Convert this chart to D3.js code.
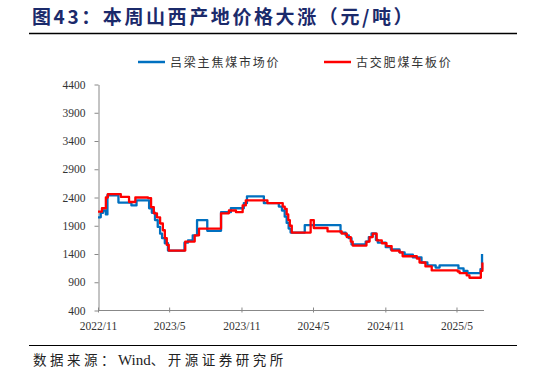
<!DOCTYPE html>
<html>
<head>
<meta charset="utf-8">
<script src="https://cdn.jsdelivr.net/npm/d3@7"></script>
<style>
  body { margin: 0; background: #fff; }
  svg { display: block; }
</style>
</head>
<body>
<svg width="546" height="376"></svg>
<script>
// series names
var seriesNames = ["吕梁主焦煤市场价", "古交肥煤车板价"];
var seriesColors = ["#0070C0", "#FF0000"];

// 吕梁主焦煤市场价 (step change points)
var lvliangDates = ["2022-11-01","2022-11-08","2022-11-14","2022-11-21","2022-11-25","2022-12-23",
  "2023-01-25","2023-02-07","2023-03-11","2023-03-18","2023-03-26","2023-04-02","2023-04-08",
  "2023-04-13","2023-04-20","2023-04-28","2023-06-09","2023-06-18","2023-06-30","2023-07-11",
  "2023-08-06","2023-09-10","2023-10-05","2023-11-07","2023-11-15","2023-12-28","2024-02-04",
  "2024-02-12","2024-02-19","2024-02-24","2024-02-29","2024-03-05","2024-04-10","2024-07-10",
  "2024-07-23","2024-07-31","2024-08-07","2024-09-12","2024-09-20","2024-09-27","2024-10-08",
  "2024-10-13","2024-11-02","2024-11-15","2024-12-07","2024-12-20","2025-01-10","2025-02-01",
  "2025-02-16","2025-03-09","2025-03-19","2025-05-06","2025-05-19","2025-05-29","2025-07-01",
  "2025-07-05"];
var lvliangValues = [2050,2130,2170,2100,2440,2310,
  2260,2350,2210,2130,2000,1880,1760,
  1680,1590,1460,1600,1640,1730,2000,
  1810,2140,2210,2300,2420,2300,2240,
  2170,2060,1950,1850,1780,1910,1780,
  1730,1680,1570,1620,1700,1765,1650,
  1600,1520,1480,1430,1390,1340,1250,
  1200,1160,1200,1145,1100,1060,1130,
  1400];

// 古交肥煤车板价 (step change points)
var gujiaoDates = ["2022-11-01","2022-11-11","2022-11-21","2022-11-26","2022-12-29","2023-01-19",
  "2023-02-04","2023-03-08","2023-03-16","2023-03-23","2023-03-31","2023-04-08","2023-04-15",
  "2023-04-20","2023-04-25","2023-04-30","2023-06-11","2023-07-05","2023-07-16","2023-09-10",
  "2023-09-30","2023-10-18","2023-11-04","2023-11-12","2024-01-06","2024-02-14","2024-02-19",
  "2024-02-24","2024-02-28","2024-03-03","2024-03-08","2024-04-25","2024-05-03","2024-06-07",
  "2024-07-13","2024-07-26","2024-08-05","2024-08-10","2024-09-14","2024-09-22","2024-09-30",
  "2024-10-10","2024-10-23","2024-11-04","2024-11-17","2024-12-07","2024-12-15","2025-01-20",
  "2025-01-27","2025-02-11","2025-02-27","2025-05-04","2025-05-09","2025-05-27","2025-06-03",
  "2025-07-02","2025-07-06"];
var gujiaoValues = [2150,2210,2400,2460,2410,2320,
  2400,2390,2230,2120,2050,1940,1820,
  1680,1560,1460,1620,1730,1850,2120,
  2170,2140,2260,2350,2300,2240,2200,
  2100,2000,1900,1780,2000,1860,1800,
  1760,1700,1620,1550,1620,1700,1760,
  1640,1590,1540,1460,1430,1360,1320,
  1250,1180,1110,1090,1060,1020,980,
  1100,1250];

var yTicks = [400, 900, 1400, 1900, 2400, 2900, 3400, 3900, 4400];
var xTickLabels = ["2022-11-01","2023-05-01","2023-11-01","2024-05-01","2024-11-01","2025-05-01"];

var parseDate = d3.timeParse("%Y-%m-%d"),
    formatTick = d3.timeFormat("%Y/%-m");

var svg = d3.select("svg");

var x = d3.scaleTime()
    .domain([parseDate("2022-11-01"), parseDate("2025-07-10")])
    .range([98, 484]);
var y = d3.scaleLinear().domain([400, 4400]).range([310.5, 84.5]);

// title
svg.append("text")
    .attr("x", 32).attr("y", 24)
    .attr("fill", "#1B2A6B")
    .style("font-family", "'Noto Sans CJK SC', sans-serif")
    .style("font-weight", "bold")
    .style("font-size", "19px")
    .style("letter-spacing", "2.6px")
    .text("图43：本周山西产地价格大涨（元/吨）");

svg.append("line")
    .attr("x1", 29).attr("x2", 517).attr("y1", 33.5).attr("y2", 33.5)
    .attr("stroke", "#000").attr("stroke-width", 1.5);

// legend
var legendX = [138, 324];
var legend = svg.selectAll(".legend").data(seriesNames).enter().append("g")
    .attr("class", "legend")
    .attr("transform", function(d, i) { return "translate(" + legendX[i] + ",62)"; });
legend.append("line")
    .attr("x1", 0).attr("x2", 27)
    .attr("stroke", function(d, i) { return seriesColors[i]; })
    .attr("stroke-width", 2.5);
legend.append("text")
    .attr("x", 32).attr("y", 4.5)
    .attr("fill", "#333")
    .style("font-family", "'Noto Sans CJK SC', sans-serif")
    .style("font-size", "12px")
    .style("letter-spacing", "1.8px")
    .text(function(d) { return d; });

// axes
var yAxis = d3.axisLeft(y).tickValues(yTicks).tickFormat(d3.format("d"))
    .tickSize(4).tickSizeOuter(0).tickPadding(9);
var yGroup = svg.append("g")
    .attr("transform", "translate(98.5,0)")
    .call(yAxis);
yGroup.select(".domain").attr("stroke", "#888");
yGroup.selectAll(".tick line").attr("stroke", "#888");
yGroup.selectAll("text")
    .attr("fill", "#333")
    .style("font-family", "'Liberation Serif', serif")
    .style("font-size", "11.5px");

var xAxis = d3.axisBottom(x)
    .tickValues(xTickLabels.map(parseDate))
    .tickFormat(formatTick)
    .tickSizeOuter(0)
    .tickPadding(5);
var xGroup = svg.append("g")
    .attr("transform", "translate(0,310.5)")
    .call(xAxis);
xGroup.select(".domain").attr("stroke", "#888").attr("d", "M98,0H484");
xGroup.selectAll(".tick line").attr("stroke", "#888").attr("y1", -3).attr("y2", 2);
xGroup.selectAll("text")
    .attr("fill", "#333")
    .style("font-family", "'Liberation Serif', serif")
    .style("font-size", "11.5px");

// lines
var line = d3.line()
    .curve(d3.curveStepAfter)
    .x(function(d) { return x(d.date); })
    .y(function(d) { return y(d.value); });

function toSeries(dates, values) {
    return dates.map(function(s, i) { return {date: parseDate(s), value: values[i]}; });
}
var data = [toSeries(lvliangDates, lvliangValues), toSeries(gujiaoDates, gujiaoValues)];

svg.selectAll(".series").data(data).enter().append("path")
    .attr("class", "series")
    .attr("fill", "none")
    .attr("stroke", function(d, i) { return seriesColors[i]; })
    .attr("stroke-width", 2.3)
    .attr("stroke-linejoin", "round")
    .attr("d", line);

// footer
svg.append("line")
    .attr("x1", 29).attr("x2", 517).attr("y1", 345.5).attr("y2", 345.5)
    .attr("stroke", "#000").attr("stroke-width", 1.2);

var footer = svg.append("text")
    .attr("x", 33).attr("y", 365)
    .attr("fill", "#222")
    .style("font-family", "'Noto Sans CJK SC', sans-serif")
    .style("font-size", "13.5px");
footer.append("tspan").style("letter-spacing", "3.5px").text("数据来源：");
footer.append("tspan")
    .style("font-family", "'Liberation Serif', serif")
    .style("font-size", "15px")
    .text("Wind");
footer.append("tspan").style("letter-spacing", "3.5px").text("、开源证券研究所");
</script>
</body>
</html>
